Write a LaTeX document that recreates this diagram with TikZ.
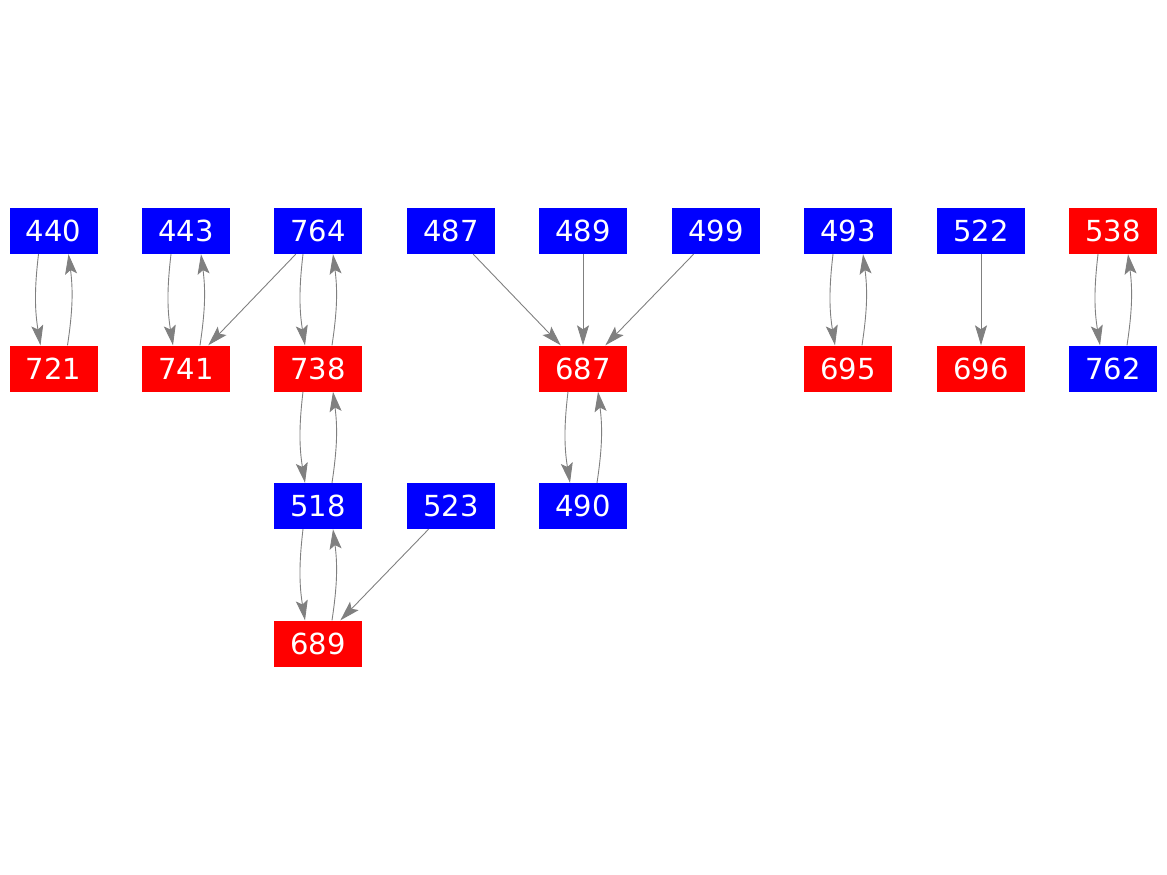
\documentclass[tikz,border=0pt]{standalone}
\usepackage{fontspec}
\setmainfont{DejaVu Sans}
\usetikzlibrary{arrows.meta}
\tikzset{
  box/.style={rectangle, minimum width=88pt, minimum height=46pt, inner sep=0pt,
    text=white, font=\fontsize{29}{34}\selectfont},
  bluebox/.style={box, fill=blue},
  redbox/.style={box, fill=red},
  edge/.style={draw=gray, line width=0.9pt, -{Stealth[length=20pt, width=12pt, inset=4pt]}}
}
\begin{document}
\begin{tikzpicture}[x=1pt,y=-1pt]
\useasboundingbox (0,0) rectangle (1167,875);

\node[bluebox] (n440) at (53.5,231) {440};
\node[redbox] (n721) at (53.5,368.5) {721};

\node[bluebox] (n443) at (186,231) {443};
\node[redbox] (n741) at (186,368.5) {741};

\node[bluebox] (n764) at (318,231) {764};
\node[redbox] (n738) at (318,368.5) {738};
\node[bluebox] (n518) at (318,506) {518};
\node[redbox] (n689) at (318,643.5) {689};
\node[bluebox] (n523) at (451,506) {523};

\node[bluebox] (n487) at (451,231) {487};
\node[bluebox] (n489) at (583,231) {489};
\node[bluebox] (n499) at (716,231) {499};
\node[redbox] (n687) at (583,368.5) {687};
\node[bluebox] (n490) at (583,506) {490};

\node[bluebox] (n493) at (848,231) {493};
\node[redbox] (n695) at (848,368.5) {695};

\node[bluebox] (n522) at (981,231) {522};
\node[redbox] (n696) at (981,368.5) {696};

\node[redbox] (n538) at (1113,231) {538};
\node[bluebox] (n762) at (1113,368.5) {762};

% two-way pairs
\foreach \a/\b in {n440/n721, n443/n741, n764/n738, n738/n518, n518/n689, n687/n490, n493/n695, n538/n762} {
  \draw[edge] ([xshift=-15pt]\a.south) to[bend right=8] ([xshift=-13pt]\b.north);
  \draw[edge] ([xshift=14pt]\b.north) to[bend right=8] ([xshift=15pt]\a.south);
}

% one-way edges
\draw[edge] (n764) -- (n741);
\draw[edge] (n523) -- (n689);
\draw[edge] (n487) -- (n687);
\draw[edge] (n489) -- (n687);
\draw[edge] (n499) -- (n687);
\draw[edge] (n522) -- (n696);
\end{tikzpicture}
\end{document}
